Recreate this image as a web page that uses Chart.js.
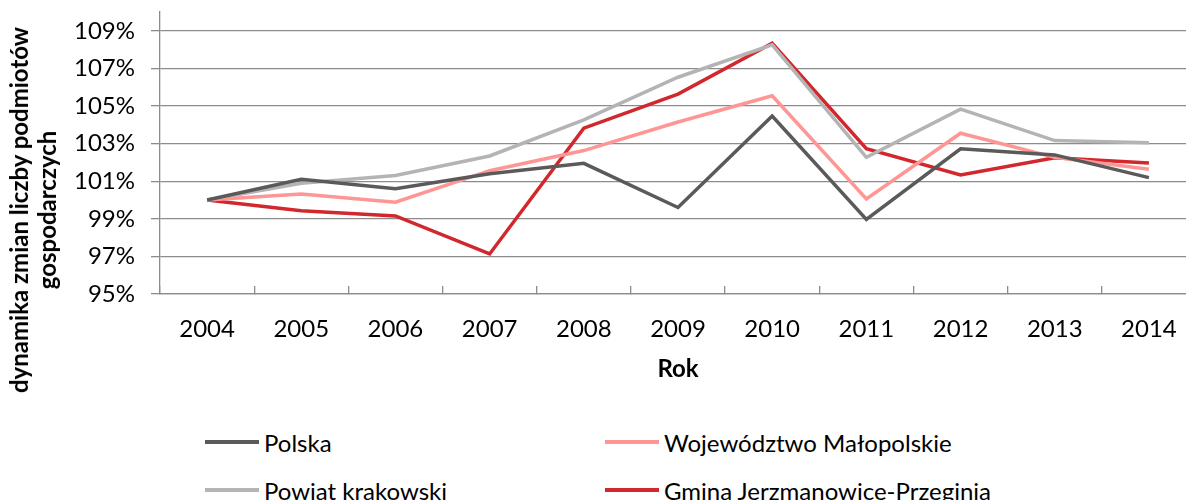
<!DOCTYPE html>
<html>
<head>
<meta charset="utf-8">
<script src="https://cdn.jsdelivr.net/npm/chart.js@4"></script>
<style>
  html, body { margin: 0; padding: 0; background: #fff; overflow: hidden; }
  #wrap { position: relative; width: 1196px; height: 500px; font-family: Lato, sans-serif; color: #000; }
  #box { position: absolute; left: 0; top: 0; width: 1196px; height: 390px; }
  #ytitle {
    position: absolute; left: 33px; top: 210px;
    transform: translate(-50%, -50%) rotate(-90deg);
    font-weight: bold; font-size: 24px; line-height: 28px;
    text-align: center; white-space: nowrap;
  }
  .leg { position: absolute; height: 30px; display: flex; align-items: center; font-size: 24px; white-space: nowrap; }
  .leg span.ln { display: inline-block; width: 54px; height: 4px; margin-right: 5px; }
</style>
</head>
<body>
<div id="wrap">
  <div id="box"><canvas id="chart"></canvas></div>
  <div id="ytitle">dynamika zmian liczby podmiotów<br>gospodarczych</div>
</div>
<script>
const years = ['2004', '2005', '2006', '2007', '2008', '2009', '2010', '2011', '2012', '2013', '2014'];
const yTicks = [95, 97, 99, 101, 103, 105, 107, 109];

// wartości w %
const polska      = [100.0, 101.1, 100.6, 101.4, 101.95, 99.6, 104.47, 98.97, 102.72, 102.4, 101.19];
const malopolskie = [100.0, 100.32, 99.88, 101.56, 102.63, 104.15, 105.54, 100.06, 103.55, 102.27, 101.64];
const krakowski   = [100.0, 100.89, 101.3, 102.34, 104.26, 106.53, 108.25, 102.27, 104.83, 103.16, 103.05];
const gmina       = [100.0, 99.43, 99.15, 97.13, 103.82, 105.63, 108.34, 102.73, 101.33, 102.25, 101.97];

const series = [
  { label: 'Polska', data: polska, color: '#5a5a5a' },
  { label: 'Województwo Małopolskie', data: malopolskie, color: '#ff9696' },
  { label: 'Powiat krakowski', data: krakowski, color: '#b4b4b4' },
  { label: 'Gmina Jerzmanowice-Przeginia', data: gmina, color: '#d2282d' }
];

const gridColor = '#8c8c8c';
const font = { family: 'Lato', size: 24 };

new Chart(document.getElementById('chart').getContext('2d'), {
  type: 'line',
  data: {
    labels: years,
    datasets: series.map(s => ({
      label: s.label,
      data: s.data,
      borderColor: s.color,
      backgroundColor: s.color,
      borderWidth: 3.5,
      pointRadius: 0,
      tension: 0
    }))
  },
  options: {
    responsive: true,
    maintainAspectRatio: false,
    animation: false,
    layout: { padding: { top: 12, left: 0, right: 0, bottom: 3 } },
    plugins: {
      legend: { display: false },
      tooltip: { enabled: false }
    },
    scales: {
      x: {
        offset: true,
        afterFit: axis => { axis.height = 93; axis.paddingLeft = 0; axis.paddingRight = 0; },
        grid: { offset: true, drawOnChartArea: false, color: gridColor, tickLength: -8, lineWidth: 1.3 },
        border: { color: gridColor, width: 1.3 },
        ticks: { color: '#000', font: font, padding: 29, maxRotation: 0 },
        title: { display: true, text: 'Rok', color: '#000', font: { family: 'Lato', size: 24, weight: 'bold' }, padding: { top: 14, bottom: 3 } }
      },
      y: {
        min: 95,
        max: 110,
        afterBuildTicks: axis => { axis.ticks = yTicks.map(v => ({ value: v })); },
        afterFit: axis => { axis.width = 160; axis.paddingTop = 0; axis.paddingBottom = 0; },
        grid: { color: gridColor, tickLength: 9, lineWidth: 1.3 },
        border: { color: gridColor, width: 1.3 },
        ticks: { color: '#000', font: font, padding: 16, callback: v => v + '%' }
      }
    }
  }
});

// legenda w dwóch kolumnach
const wrap = document.getElementById('wrap');
const legX = [205, 605];
const legY = [442, 490];
series.forEach((s, i) => {
  const el = document.createElement('div');
  el.className = 'leg';
  el.style.left = legX[i % 2] + 'px';
  el.style.top = (legY[Math.floor(i / 2)] - 15) + 'px';
  el.innerHTML = '<span class="ln" style="background:' + s.color + '"></span>' + s.label;
  wrap.appendChild(el);
});
</script>
</body>
</html>
